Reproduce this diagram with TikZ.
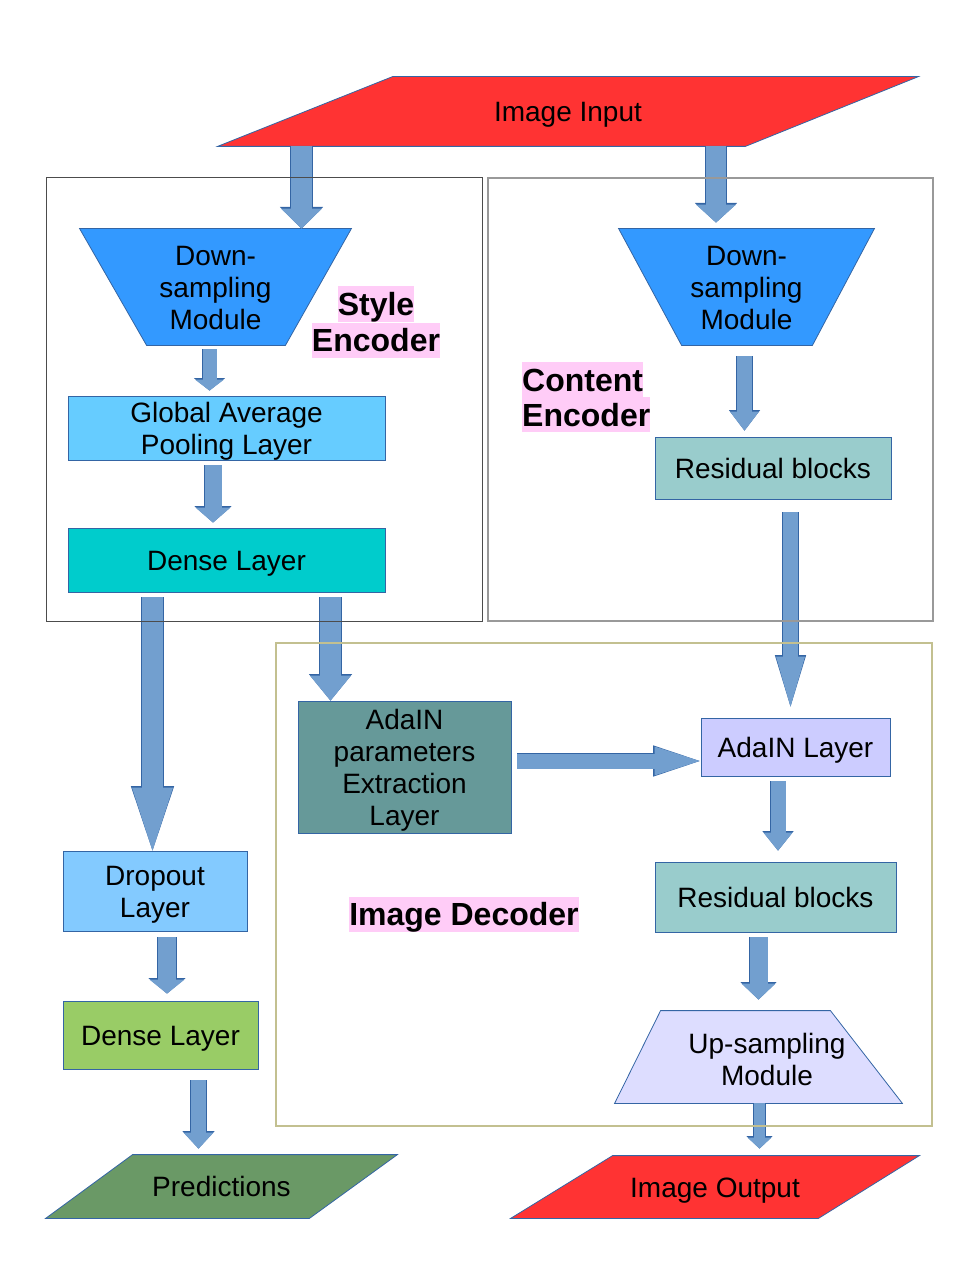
\documentclass[tikz,border=0pt]{standalone}
\usepackage{fontspec}
\setmainfont{Liberation Sans}
\usetikzlibrary{arrows.meta, positioning, backgrounds}

\definecolor{inputred}{HTML}{FF3333}
\definecolor{dsblue}{HTML}{3399FF}
\definecolor{gapblue}{HTML}{66CCFF}
\definecolor{denseteal}{HTML}{00CCCC}
\definecolor{resteal}{HTML}{99CCCC}
\definecolor{paramteal}{HTML}{669999}
\definecolor{adaviolet}{HTML}{CCCCFF}
\definecolor{uplilac}{HTML}{DDDDFF}
\definecolor{dropblue}{HTML}{83CAFF}
\definecolor{densegreen}{HTML}{99CC66}
\definecolor{predgreen}{HTML}{6A9966}
\definecolor{boxedge}{HTML}{3465A4}
\definecolor{arrowblue}{HTML}{729FCF}
\definecolor{arrowedge}{HTML}{3465A4}
\definecolor{tagpink}{HTML}{FFCCF7}

\newcommand{\tagbox}[1]{{\setlength{\fboxsep}{0pt}\colorbox{tagpink}{\rule[-6pt]{0pt}{35pt}#1}}}
\newcommand{\linestrut}{\rule[-6pt]{0pt}{32pt}}

\begin{document}
\begin{tikzpicture}[x=1pt, y=-1pt,
    % Node styles
    block/.style={
        draw=boxedge, line width=0.8pt, align=center, inner sep=2pt,
        font=\fontsize{28}{32}\selectfont,
        execute at begin node=\linestrut, execute at end node=\linestrut,
      },
    layer/.style={block, rectangle},
    shapebox/.style={block, rectangle, draw=none},
    outline/.style={draw=boxedge, line width=0.8pt},
    tag/.style={inner sep=0pt, font=\fontsize{32}{35}\selectfont\bfseries},
    frame/.style={rectangle, inner sep=0pt},
    % Block arrows: shaft width, head width, head length
    fat arrow/.style n args={3}{
        draw=arrowblue, line width=#1,
        -{Triangle[width=#2, length=#3, line width=0pt]},
        preaction={draw=arrowedge, line width=#1+1.2,
            -{Triangle[width=#2+2.4, length=#3+1.6, line width=0pt]}},
      },
  ]
  \useasboundingbox (0,0) rectangle (978,1265);

  % --- input / output ---
  \node[shapebox, minimum width=700, minimum height=69] (input) at (568,111.5) {Image Input};
  \node[shapebox, minimum width=408, minimum height=62] (output) at (715,1187) {Image Output};
  \node[shapebox, minimum width=351, minimum height=63] (pred) at (221.5,1186.5) {Predictions};

  % --- style encoder ---
  \node[shapebox, minimum width=271, minimum height=116] (dsL) at (215.5,287)
    {\linestrut Down-\\sampling\\Module};
  \node[layer, fill=gapblue, inner ysep=0pt, minimum width=317, minimum height=64] (gap) at (226.5,428)
    {\linestrut Global Average\\Pooling Layer};
  \node[layer, fill=denseteal, minimum width=317, minimum height=64] (dense1) at (226.5,560)
    {Dense Layer};
  \node[tag, align=center] (styletag) at (376,322) {\tagbox{Style}\\\tagbox{Encoder}};

  % --- content encoder ---
  \node[shapebox, minimum width=255, minimum height=116] (dsR) at (746.5,287)
    {\linestrut Down-\\sampling\\Module};
  \node[layer, fill=resteal, minimum width=236, minimum height=62] (res1) at (773,468)
    {Residual blocks};
  \node[tag, align=left, anchor=west] (contenttag) at (522,397)
    {\tagbox{Content}\\\tagbox{Encoder}};

  % --- decoder ---
  \node[layer, fill=paramteal, minimum width=213, minimum height=132] (adaparam) at (404.5,767)
    {\linestrut AdaIN\\parameters\\Extraction\\Layer};
  \node[layer, fill=adaviolet, minimum width=189, minimum height=58] (adalayer) at (795.5,747)
    {AdaIN Layer};
  \node[layer, fill=resteal, minimum width=241, minimum height=70] (res2) at (775.5,897)
    {Residual blocks};
  \node[shapebox, minimum width=287, minimum height=92] (up) at (758.5,1057) {};
  \node[shapebox] (uptext) at (767,1059) {\linestrut Up-sampling\\Module};
  \node[tag] (decodertag) at (464,914.5) {\tagbox{Image Decoder}};

  % --- classifier head ---
  \node[layer, fill=dropblue, minimum width=184, minimum height=80] (dropout) at (155,891)
    {\linestrut Dropout\\Layer};
  \node[layer, fill=densegreen, minimum width=195, minimum height=68] (dense2) at (160.5,1035)
    {Dense Layer};

  % --- slanted outlines behind the texts ---
  \begin{scope}[on background layer]
    \draw[outline, fill=inputred] ([xshift=175]input.north west) -- (input.north east)
      -- ([xshift=-173]input.south east) -- (input.south west) -- cycle;
    \draw[outline, fill=inputred] ([xshift=102]output.north west) -- (output.north east)
      -- ([xshift=-101]output.south east) -- (output.south west) -- cycle;
    \draw[outline, fill=predgreen] ([xshift=87]pred.north west) -- (pred.north east)
      -- ([xshift=-88]pred.south east) -- (pred.south west) -- cycle;
    \draw[outline, fill=dsblue] (dsL.north west) -- (dsL.north east)
      -- ([xshift=-66]dsL.south east) -- ([xshift=67]dsL.south west) -- cycle;
    \draw[outline, fill=dsblue] (dsR.north west) -- (dsR.north east)
      -- ([xshift=-62]dsR.south east) -- ([xshift=63]dsR.south west) -- cycle;
    \draw[outline, fill=uplilac] ([xshift=46]up.north west) -- ([xshift=-72]up.north east)
      -- (up.south east) -- (up.south west) -- cycle;
  \end{scope}

  % --- arrows ---
  \draw[fat arrow={21}{41}{20}] ([xshift=86]input.south -| dsL.north) -- ([xshift=86]dsL.north);
  \draw[fat arrow={20}{40}{18}, shorten >=6pt] ([xshift=-30.5]input.south -| dsR.north) -- ([xshift=-30.5]dsR.north);
  \draw[fat arrow={14}{29}{11}, shorten <=4pt, shorten >=5pt] ([xshift=-17]gap.north |- dsL.south) -- ([xshift=-17]gap.north);
  \draw[fat arrow={17}{35}{15}, shorten <=5pt, shorten >=5pt] ([xshift=-13.5]gap.south) -- ([xshift=-13.5]dense1.north);
  \draw[fat arrow={21}{41}{63}, shorten <=5pt] ([xshift=-2.5]dropout.north |- dense1.south) -- ([xshift=-2.5]dropout.north);
  \draw[fat arrow={21}{41}{25}, shorten <=5pt] ([xshift=-74]adaparam.north |- dense1.south) -- ([xshift=-74]adaparam.north);
  \draw[fat arrow={15}{29}{19}, shorten <=11pt, shorten >=6pt] ([xshift=-28.5]res1.north |- dsR.south) -- ([xshift=-28.5]res1.north);
  \draw[fat arrow={15}{29}{50}, shorten <=13pt, shorten >=11pt] ([xshift=-5]adalayer.north |- res1.south) -- ([xshift=-5]adalayer.north);
  \draw[fat arrow={15}{29}{45}, shorten <=6pt, shorten >=1pt] ([yshift=-14]adalayer.west -| adaparam.east) -- ([yshift=-14]adalayer.west);
  \draw[fat arrow={15}{29}{18}, shorten <=5pt, shorten >=11pt] ([xshift=2.5]res2.north |- adalayer.south) -- ([xshift=2.5]res2.north);
  \draw[fat arrow={18}{34}{16}, shorten <=5pt, shorten >=11pt] (res2.south -| up.north) -- (up.north);
  \draw[fat arrow={11}{24}{11}, shorten >=7pt] ([xshift=1]up.south) -- ([xshift=1]up.south |- output.north);
  \draw[fat arrow={18}{35}{14}, shorten <=6pt, shorten >=7pt] ([xshift=12]dropout.south) -- ([xshift=12]dropout.south |- dense2.north);
  \draw[fat arrow={15}{30}{16}, shorten <=11pt, shorten >=6pt] ([xshift=-23]pred.north |- dense2.south) -- ([xshift=-23]pred.north);

  % --- frames ---
  \node[frame, draw=black!70, line width=1pt, minimum width=436, minimum height=443] (styleframe) at (264,399.5) {};
  \node[frame, draw=black!40, line width=2pt, minimum width=445, minimum height=443] (contentframe) at (710.5,399.5) {};
  \node[frame, draw=black!35!olive!40, line width=1.2pt, minimum width=656, minimum height=483] (decoderframe) at (604,884.5) {};
\end{tikzpicture}
\end{document}
